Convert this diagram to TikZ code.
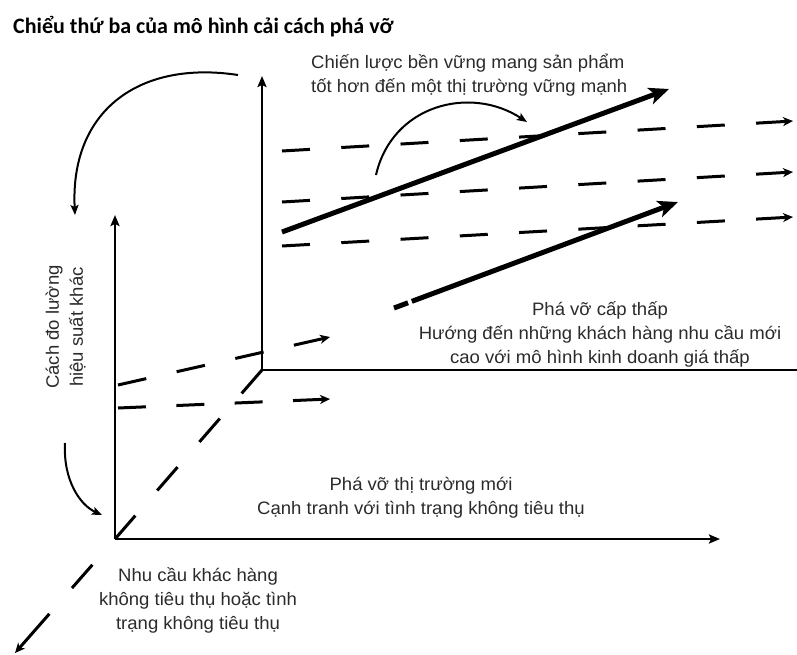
\documentclass[tikz,border=0pt]{standalone}
\usepackage{fontspec}
\setmainfont{Liberation Sans}
\newfontfamily\labfont[FakeStretch=1.03]{Liberation Sans}
\newfontfamily\ttlfont{Carlito}
\usetikzlibrary{arrows.meta,calc}
\definecolor{txt}{HTML}{2B2B2B}
\begin{document}
\begin{tikzpicture}[x=1pt,y=-1pt,
  lab/.style={font=\labfont\fontsize{18}{24}\selectfont, text=txt, align=center, inner sep=0pt},
  axisline/.style={line width=2.4pt, -{Stealth[length=11pt,width=9pt,inset=2pt]}},
  dpart/.style={line width=3pt},
  dtip/.style={line width=3pt, -{Stealth[length=10pt,width=9pt,inset=3pt]}},
  bigarrow/.style={line width=5pt, -{Stealth[length=20pt,width=17pt,inset=5pt]}},
  bendarrow/.style={line width=2pt, -{Stealth[length=10pt,width=8pt,inset=2pt]}},
]
\useasboundingbox (0,0) rectangle (797,654);
\fill[white] (0,0) rectangle (797,654);

% title
\node[anchor=base west, inner sep=0pt, text=black, font=\ttlfont\bfseries\fontsize{22}{26}\selectfont] (title) at (13,33) {Chiểu thứ ba của mô hình cải cách phá vỡ};

% axes coordinates
\coordinate (O) at (115,539);
\coordinate (Fy) at (115,215);
\coordinate (Fx) at (720,539);
\coordinate (B) at (262,370);
\coordinate (By) at (262,76);
\coordinate (Bx) at (797,370);
\coordinate (Dz) at (15,653);

% back axes
\draw[line width=2.2pt] (Bx) -- (B);
\draw[axisline, line width=2.2pt] (B) -- (By);
% front axes
\draw[axisline] (O) -- (Fy);
\draw[axisline] (O) -- (Fx);
% diagonal (third dimension)
\coordinate (da) at ($(Dz)!52pt!(O)$);
\draw[dpart, dash pattern=on 31pt off 33.33pt] (B) -- (O);
\draw[dpart, dash pattern=on 31pt off 34.3pt, dash phase=31pt] (O) -- (da);
\draw[dtip] (da) -- (Dz);

% front dashed lines
\coordinate (f1s) at (118,385); \coordinate (f1e) at (330,337);
\coordinate (f2s) at (118,408); \coordinate (f2e) at (330,399);
\coordinate (f1a) at ($(f1e)!37pt!(f1s)$);
\coordinate (f2a) at ($(f2e)!37pt!(f2s)$);
\draw[dpart, dash pattern=on 29pt off 31.13pt] (f1s) -- (f1a);
\draw[dtip] (f1a) -- (f1e);
\draw[dpart, dash pattern=on 28pt off 30.4pt] (f2s) -- (f2a);
\draw[dtip] (f2a) -- (f2e);

% back dashed lines
\coordinate (b1s) at (282,151); \coordinate (b1e) at (793,121);
\coordinate (b2s) at (282,202); \coordinate (b2e) at (793,172);
\coordinate (b3s) at (282,246); \coordinate (b3e) at (793,217);
\coordinate (b1a) at ($(b1e)!37pt!(b1s)$);
\coordinate (b2a) at ($(b2e)!37pt!(b2s)$);
\coordinate (b3a) at ($(b3e)!37pt!(b3s)$);
\draw[dpart, dash pattern=on 28pt off 31.36pt] (b1s) -- (b1a);
\draw[dtip] (b1a) -- (b1e);
\draw[dpart, dash pattern=on 28pt off 31.36pt] (b2s) -- (b2a);
\draw[dtip] (b2a) -- (b2e);
\draw[dpart, dash pattern=on 28pt off 31.36pt] (b3s) -- (b3a);
\draw[dtip] (b3a) -- (b3e);

% thick arrows
\coordinate (t1s) at (282,232); \coordinate (t1e) at (669,89);
\coordinate (t2s) at (394,308); \coordinate (t2e) at (678,202);
\draw[bigarrow] (t1s) -- (t1e);
\draw[bigarrow, dash pattern=on 15pt off 4pt on 1000pt off 1pt] (t2s) -- (t2e);

% curved arrows
\coordinate (c1s) at (376,175); \coordinate (c1e) at (527,122);
\draw[bendarrow] (c1s) .. controls (392,105) and (470,85) .. (c1e);
\coordinate (c2s) at (238,75); \coordinate (c2e) at (75,215);
\draw[bendarrow] (c2s) .. controls (140,60) and (70,110) .. (c2e);
\coordinate (c3s) at (65,443); \coordinate (c3e) at (102,515);
\draw[bendarrow] (c3s) .. controls (63,480) and (80,505) .. (c3e);

% labels
\node[lab, align=left, anchor=west] (sustain) at (311,75.5) {Chiến lược bền vững mang sản phẩm\\tốt hơn đến một thị trường vững mạnh};
\node[lab] (lowend) at (600,334.5) {Phá vỡ cấp thấp\\Hướng đến những khách hàng nhu cầu mới\\cao với mô hình kinh doanh giá thấp};
\node[lab] (newmarket) at (421,497.5) {Phá vỡ thị trường mới\\Cạnh tranh với tình trạng không tiêu thụ};
\node[lab] (nonconsume) at (198,600.5) {Nhu cầu khác hàng\\không tiêu thụ hoặc tình\\trạng không tiêu thụ};
\node[lab, rotate=90] (measure) at (65.5,327) {Cách đo lường\\hiệu suất khác};
\end{tikzpicture}
\end{document}
